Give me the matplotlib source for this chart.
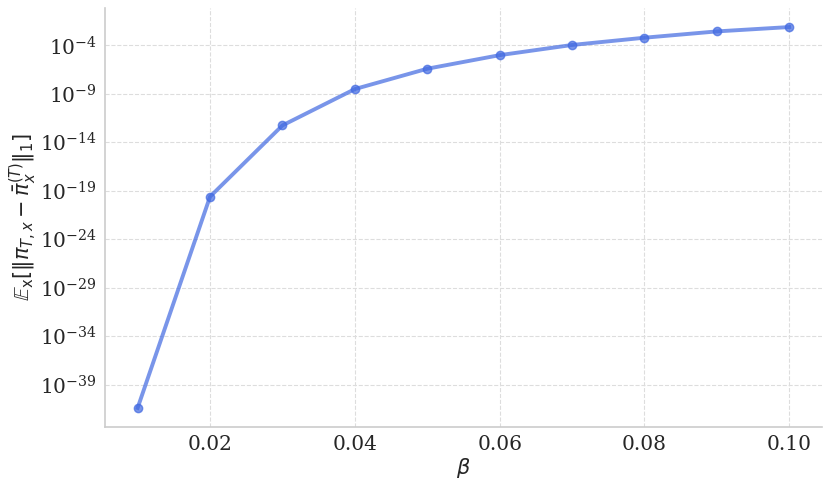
import numpy as np
import matplotlib
matplotlib.use("Agg")
import matplotlib.pyplot as plt

beta = [0.01, 0.02, 0.03, 0.04, 0.05, 0.06, 0.07, 0.08, 0.09, 0.10]
log10_err = [-41.4, -19.6, -12.25, -8.5, -6.4, -5.0, -3.95, -3.2, -2.55, -2.1]
err = [10.0 ** v for v in log10_err]
yticks = [1e-39, 1e-34, 1e-29, 1e-24, 1e-19, 1e-14, 1e-9, 1e-4]
xticks = [0.02, 0.04, 0.06, 0.08, 0.10]

fig = plt.figure(figsize=(8.31, 4.88), dpi=100)
ax = fig.add_axes([0.1264, 0.125, 0.8626, 0.8586])

ax.plot(beta, err, color="royalblue", alpha=0.7, lw=2.8, marker="o", ms=6)
ax.set_yscale("log")
ax.set_yticks(yticks)
ax.minorticks_off()
ax.set_xticks(xticks)
ax.set_xticklabels([f"{t:.2f}" for t in xticks])

for lab in ax.get_xticklabels() + ax.get_yticklabels():
    lab.set_fontfamily("DejaVu Serif")
    lab.set_fontsize(14.5)
    lab.set_color("#262626")

ax.tick_params(length=0, pad=6)
ax.grid(True, ls="--", color="#dddddd", lw=0.8)
ax.set_axisbelow(True)
for s in ["top", "right"]:
    ax.spines[s].set_visible(False)
for s in ["left", "bottom"]:
    ax.spines[s].set_color("#cccccc")
    ax.spines[s].set_linewidth(1.2)

ax.set_xlabel(r"$\beta$", fontsize=15, color="#262626", labelpad=1)
ax.set_ylabel(r"$\mathbb{E}_{\mathrm{x}}[\|\pi_{T,x} - \bar{\pi}_x^{(T)}\|_1]$", fontsize=15, color="#262626", labelpad=1)

fig.savefig("out.png", dpi=100)
